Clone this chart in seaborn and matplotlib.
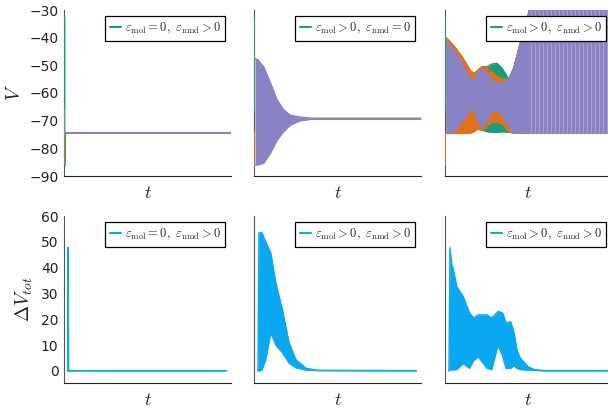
import matplotlib.pyplot as plt
import seaborn as sns
from matplotlib.lines import Line2D

GREEN = "#1b9e77"
ORANGE = "#e2711d"
PURPLE = "#8883c4"
BLUE = "#0aa8f0"

# top row, left: eps_mol = 0, eps_nmd > 0
A_T = [0, 0, 0.4, 100]
A_GREEN = [-33.0, -86.3, -74.4, -74.4]
A_ORANGE = [-85.3, -74.4, -74.4, -74.4]
A_PURPLE = [-66.0, -74.4, -74.4, -74.4]

# top row, middle: eps_mol > 0, eps_nmd = 0
B_START_T = [0, 0]
B_GREEN_START = [-33.6, -66.0]
B_ORANGE_START = [-74.0, -86.5]
B_ENV_T = [0.3, 2, 5.6, 9.6, 13.6, 17.4, 21.5, 27.5, 34, 100]
B_HI = [-47.5, -48.0, -50.6, -56.4, -62.5, -66.0, -68.0, -68.7, -69.1, -69.1]
B_LO = [-86.0, -86.0, -85.3, -81.7, -77.0, -74.0, -71.6, -70.0, -69.5, -69.5]

# top row, right: eps_mol > 0, eps_nmd > 0
C_START_T = [0, 0]
C_GREEN_START = [-33.0, -66.0]
C_ORANGE_START = [-74.4, -86.0]
C_ENV_T = [0.3, 2, 5, 10, 15, 17, 19, 22, 25, 28, 31, 34, 38, 41, 44, 47, 50, 52, 100]
C_PURPLE_HI = [-41, -42.6, -44.5, -49.5, -55, -55.3, -53, -51.1, -53, -55.3, -56.5,
               -56.5, -55, -51, -44, -37, -31, -20, -20]
C_PURPLE_LO = [-74.4, -74.6, -74, -70.5, -66.1, -66, -69, -72.8, -70, -66.5, -66.1,
               -68, -72, -74.4, -74.4, -74.4, -74.4, -74.4, -74.4]
C_ORANGE_HI = [-40, -41, -43, -47, -52, -53, -52, -50.5, -51, -52.5, -54,
               -55, -55, -51, -44, -37, -31, -20, -20]
C_ORANGE_LO = [-74.4, -74.6, -74.6, -74.6, -74.4, -74, -73, -73.5, -72, -70.5, -70.5,
               -71, -74, -74.4, -74.4, -74.4, -74.4, -74.4, -74.4]
C_GREEN_HI = [-40, -41, -43, -47, -52, -53, -52, -50.5, -50.5, -49.5, -49.3,
              -51, -55, -51, -44, -37, -31, -20, -20]
C_GREEN_LO = [-74.4, -74.6, -74.6, -74.6, -74.4, -74, -73, -73.5, -74, -74.2, -74.2,
              -74, -74.2, -74.4, -74.4, -74.4, -74.4, -74.4, -74.4]
C_GAP_T = [51.5, 53.8, 56.2, 58.6, 61.0, 63.4, 65.8, 68.2, 70.6, 73.0, 75.4,
           77.8, 80.2, 82.6, 85.0, 87.4, 89.8, 92.2, 94.6, 97.0, 99.4]

# bottom row, left
D_T = [0, 0, 0.3, 100]
D_DV = [0, 47.7, 0, 0]

# bottom row, middle
E_T = [0, 0.6, 2.5, 4.9, 8.1, 11.3, 15.5, 19.7, 24, 30.4, 38, 100]
E_HI = [0, 53.5, 53.5, 50, 45.7, 34, 23.6, 10.8, 4.3, 1.0, 0.2, 0.1]
E_LO = [0, 0, 0.3, 4.3, 14.7, 10, 7, 3, 1.2, 0.3, 0.1, 0.0]

# bottom row, right
F_T = [0, 0.6, 2, 2.5, 5, 9, 13, 15.6, 18.5, 24, 27, 31, 34, 36, 39, 41, 43, 45, 50, 54, 60, 100]
F_HI = [0, 47.7, 40, 40, 32.6, 28.8, 22.4, 20.5, 21.7, 21.7, 20.5, 23, 22.4, 18.6,
        19, 15, 8, 5, 1.6, 0.5, 0.1, 0.1]
F_LO = [0, 0.4, 0.4, 0.4, 0.5, 2.8, 1, 4, 5.5, 1, 0.5, 10, 5.5, 1,
        1, 2, 1, 0.5, 0.3, 0.2, 0, 0]

TOP_LABELS = [
    r"$\varepsilon_{\mathrm{mol}} = 0,\ \varepsilon_{\mathrm{nmd}} > 0$",
    r"$\varepsilon_{\mathrm{mol}} > 0,\ \varepsilon_{\mathrm{nmd}} = 0$",
    r"$\varepsilon_{\mathrm{mol}} > 0,\ \varepsilon_{\mathrm{nmd}} > 0$",
]
BOTTOM_LABELS = [
    r"$\varepsilon_{\mathrm{mol}} = 0,\ \varepsilon_{\mathrm{nmd}} > 0$",
    r"$\varepsilon_{\mathrm{mol}} > 0,\ \varepsilon_{\mathrm{nmd}} > 0$",
    r"$\varepsilon_{\mathrm{mol}} > 0,\ \varepsilon_{\mathrm{nmd}} > 0$",
]
V_TICKS = [-90, -80, -70, -60, -50, -40, -30]
DV_TICKS = [0, 10, 20, 30, 40, 50, 60]


def line(ax, x, y, color, lw=1.3):
    sns.lineplot(x=x, y=y, ax=ax, color=color, linewidth=lw,
                 estimator=None, sort=False, zorder=3)


def band(ax, x, lo, hi, color):
    ax.fill_between(x, lo, hi, color=color, linewidth=0, zorder=3)
    line(ax, x, hi, color, lw=1.0)
    line(ax, x, lo, color, lw=1.0)


def style_axes(ax, first_col, label, legend_color):
    for side in ["top", "right"]:
        ax.spines[side].set_visible(False)
    ax.spines["left"].set_color("#555555")
    ax.spines["bottom"].set_color("#222222")
    ax.set_xticks([])
    if not first_col:
        ax.set_yticks([])
    ax.tick_params(axis="y", direction="in", length=3, labelsize=10,
                   colors="#555555", labelcolor="#222222", pad=4)
    ax.set_xlabel(r"$t$", fontsize=13, labelpad=6)
    handle = Line2D([0], [0], color=legend_color, lw=1.5)
    leg = ax.legend([handle], [label], loc="upper right", fontsize=9,
                    frameon=True, fancybox=False, framealpha=1,
                    handlelength=0.9, handletextpad=0.25, borderpad=0.4,
                    borderaxespad=0.45)
    leg.get_frame().set_edgecolor("black")
    leg.get_frame().set_linewidth(0.9)
    leg.set_zorder(10)


def main() -> None:
    sns.set_style("white")
    plt.rcParams["font.family"] = ["DejaVu Sans"]
    plt.rcParams["mathtext.fontset"] = "cm"

    fig = plt.figure(figsize=(6.08, 4.09), dpi=100)
    lefts = [64 / 608, 254 / 608, 445 / 608]
    width = 167 / 608
    top_axes = [fig.add_axes([l, 233 / 409, width, 166 / 409]) for l in lefts]
    bot_axes = [fig.add_axes([l, 26 / 409, width, 167 / 409]) for l in lefts]

    # top left
    ax = top_axes[0]
    line(ax, A_T, A_GREEN, GREEN)
    line(ax, A_T, A_ORANGE, ORANGE)
    line(ax, A_T, A_PURPLE, PURPLE)

    # top middle
    ax = top_axes[1]
    line(ax, B_START_T, B_GREEN_START, GREEN)
    line(ax, B_START_T, B_ORANGE_START, ORANGE)
    band(ax, B_ENV_T, B_LO, B_HI, PURPLE)

    # top right
    ax = top_axes[2]
    line(ax, C_START_T, C_GREEN_START, GREEN)
    line(ax, C_START_T, C_ORANGE_START, ORANGE)
    band(ax, C_ENV_T, C_GREEN_LO, C_GREEN_HI, GREEN)
    band(ax, C_ENV_T, C_ORANGE_LO, C_ORANGE_HI, ORANGE)
    band(ax, C_ENV_T, C_PURPLE_LO, C_PURPLE_HI, PURPLE)
    for t in C_GAP_T:
        ax.vlines(t, -74.4, -20, color="#a79ccd", linewidth=0.8, zorder=4)

    for i, ax in enumerate(top_axes):
        ax.set_xlim(-0.3, 100)
        ax.set_ylim(-90, -30)
        ax.set_yticks(V_TICKS)
        style_axes(ax, i == 0, TOP_LABELS[i], GREEN)
        ax.set_ylabel("")
    top_axes[0].set_ylabel(r"$V$", fontsize=14, labelpad=4)

    # bottom row
    line(bot_axes[0], D_T, D_DV, BLUE)
    band(bot_axes[1], E_T, E_LO, E_HI, BLUE)
    band(bot_axes[2], F_T, F_LO, F_HI, BLUE)

    for i, ax in enumerate(bot_axes):
        ax.set_xlim(-2.5, 103)
        ax.set_ylim(-4.7, 60)
        ax.set_yticks(DV_TICKS)
        style_axes(ax, i == 0, BOTTOM_LABELS[i], BLUE)
        ax.set_ylabel("")
    bot_axes[0].set_ylabel(r"$\Delta V_{tot}$", fontsize=14, labelpad=4)

    fig.savefig("out.png", dpi=100)
    plt.close(fig)


if __name__ == "__main__":
    main()
